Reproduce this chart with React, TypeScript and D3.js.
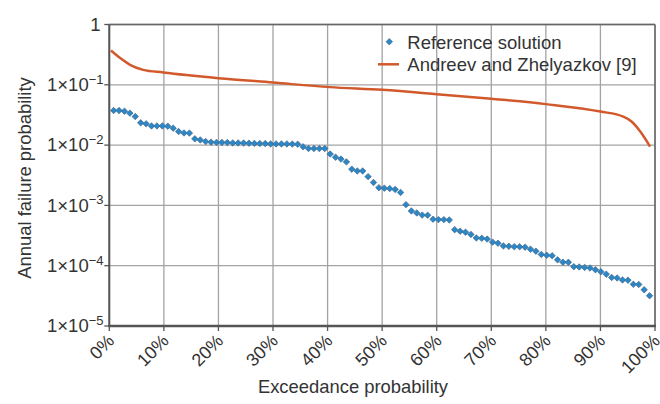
import React from 'react';
import * as d3 from 'd3';

const exceedanceTicks = [0, 10, 20, 30, 40, 50, 60, 70, 80, 90, 100];
const probabilityExponents = [0, -1, -2, -3, -4, -5];

// Reference solution: 100 ordered samples
const referenceSolution = [
  0.0374, 0.0374, 0.0365, 0.0339, 0.0297, 0.0234, 0.0225, 0.0208, 0.0208, 0.0208,
  0.0206, 0.0191, 0.0168, 0.0159, 0.0158, 0.0127, 0.0122, 0.01144, 0.01118, 0.01109,
  0.01109, 0.01101, 0.01088, 0.01088, 0.0108, 0.01076, 0.01068, 0.0106, 0.0106, 0.01047,
  0.01047, 0.01047, 0.01047, 0.01039, 0.01035, 0.00938, 0.00879, 0.00876, 0.00876, 0.00876,
  0.0071, 0.0063, 0.00586, 0.00527, 0.00399, 0.00373, 0.00373, 0.003, 0.0024, 0.00197,
  0.00193, 0.0019, 0.00184, 0.00164, 0.00103, 0.00081, 0.00075, 0.00069, 0.000687, 0.00059,
  0.000581, 0.000581, 0.000574, 0.000396, 0.000374, 0.00036, 0.00033, 0.000289, 0.000285, 0.000276,
  0.000246, 0.000236, 0.000213, 0.00021, 0.000207, 0.000206, 0.000203, 0.000188, 0.000174, 0.000154,
  0.000149, 0.000146, 0.000125, 0.000114, 0.000114, 0.0000964, 0.0000953, 0.0000935, 0.0000917, 0.0000856,
  0.0000796, 0.0000724, 0.0000638, 0.0000626, 0.000058, 0.0000575, 0.0000492, 0.0000488, 0.0000399, 0.0000318,
];

// Andreev and Zhelyazkov [9] curve
const andreevExceedance = [0.3, 2.0, 3.8, 6.2, 9.9, 20, 30, 40.4, 50, 60, 70, 80, 90, 94.2, 95.7, 97.3, 99.1];
const andreevProbability = [0.37, 0.277, 0.214, 0.177, 0.16, 0.129, 0.109, 0.0915, 0.0825, 0.07, 0.0585, 0.0478, 0.036, 0.0297, 0.0246, 0.0168, 0.00945];

const W = 660;
const H = 404;
const M = { left: 109.3, right: 655, top: 24.5, bottom: 326 };
const FONT = 'Liberation Sans, Arial, Helvetica, sans-serif';
const TEXT = '#333';
const BLUE = '#2b88c8';
const ORANGE = '#d2592b';

export default function App() {
  const x = d3.scaleLinear().domain([0, 100]).range([M.left, M.right]);
  const y = d3.scaleLog().domain([1e-5, 1]).range([M.bottom, M.top]);

  const refPoints = referenceSolution.map((v, i) => ({ px: ((i + 0.8) / 100.8) * 100, v }));
  const line = d3
    .line<number>()
    .x((_, i) => x(andreevExceedance[i]))
    .y((d) => y(d))
    .curve(d3.curveMonotoneX);
  const diamond = d3.symbol(d3.symbolSquare, 21)() as string;

  return (
    <svg width={W} height={H} style={{ position: 'absolute', left: 0, top: 0, background: '#fff' }} fontFamily={FONT}>
      {/* grid */}
      {exceedanceTicks.map((t) => (
        <line key={'gx' + t} x1={x(t)} x2={x(t)} y1={M.top} y2={M.bottom} stroke="#a3a3a3" strokeWidth={1.3} />
      ))}
      {probabilityExponents.map((e) => (
        <line key={'gy' + e} x1={M.left} x2={M.right} y1={y(Math.pow(10, e))} y2={y(Math.pow(10, e))} stroke="#a3a3a3" strokeWidth={1.3} />
      ))}
      {/* frame */}
      <line x1={M.left} x2={M.right} y1={M.top} y2={M.top} stroke="#666" strokeWidth={1.5} />
      <line x1={M.right} x2={M.right} y1={M.top} y2={M.bottom} stroke="#666" strokeWidth={1.5} />
      <line x1={M.left} x2={M.left} y1={M.top} y2={M.bottom + 1} stroke="#555" strokeWidth={2} />
      <line x1={M.left - 1} x2={M.right + 1} y1={M.bottom} y2={M.bottom} stroke="#555" strokeWidth={2.6} />

      {/* y ticks */}
      {probabilityExponents.map((e) => {
        const yy = y(Math.pow(10, e));
        return (
          <g key={'ty' + e}>
            <line x1={M.left - 5} x2={M.left} y1={yy} y2={yy} stroke="#555" strokeWidth={1.3} />
            {e === 0 ? (
              <text x={100.5} y={yy + 6.3} fontSize={18.5} fill={TEXT} textAnchor="end">1</text>
            ) : (
              <text x={103.5} y={yy + 6.3} fontSize={18.5} fill={TEXT} textAnchor="end">
                1×10
                <tspan dy={-7.5} fontSize={13}>{'−' + Math.abs(e)}</tspan>
              </text>
            )}
          </g>
        );
      })}

      {/* x ticks */}
      {exceedanceTicks.map((t) => {
        const xx = x(t);
        const px = xx + 6;
        const py = M.bottom + 16;
        return (
          <g key={'tx' + t}>
            <line x1={xx} x2={xx} y1={M.bottom} y2={M.bottom + 5} stroke="#555" strokeWidth={1.3} />
            <text x={px} y={py} fontSize={18} fill={TEXT} textAnchor="end" transform={`rotate(-45 ${px} ${py})`}>
              {t + '%'}
            </text>
          </g>
        );
      })}

      {/* axis titles */}
      <text x={353} y={393} fontSize={18.4} fill={TEXT} textAnchor="middle">Exceedance probability</text>
      <text x={31} y={178} fontSize={18.4} fill={TEXT} textAnchor="middle" transform="rotate(-90 31 178)">Annual failure probability</text>

      {/* Andreev line */}
      <path d={line(andreevProbability) || ''} fill="none" stroke={ORANGE} strokeWidth={2.5} />

      {/* reference points */}
      {refPoints.map((p, i) => (
        <path key={'p' + i} d={diamond} transform={`translate(${x(p.px)},${y(p.v)}) rotate(45)`} fill={BLUE} stroke="#3d5f80" strokeWidth={0.6} />
      ))}

      {/* legend */}
      <path d={diamond} transform="translate(389.3,41.7) rotate(45)" fill={BLUE} stroke="#3d5f80" strokeWidth={0.6} />
      <text x={407.3} y={48.6} fontSize={18.5} fill={TEXT}>Reference solution</text>
      <line x1={378} x2={399} y1={64.3} y2={64.3} stroke={ORANGE} strokeWidth={2.5} />
      <text x={407.3} y={71} fontSize={18.5} fill={TEXT}>Andreev and Zhelyazkov [9]</text>
    </svg>
  );
}
